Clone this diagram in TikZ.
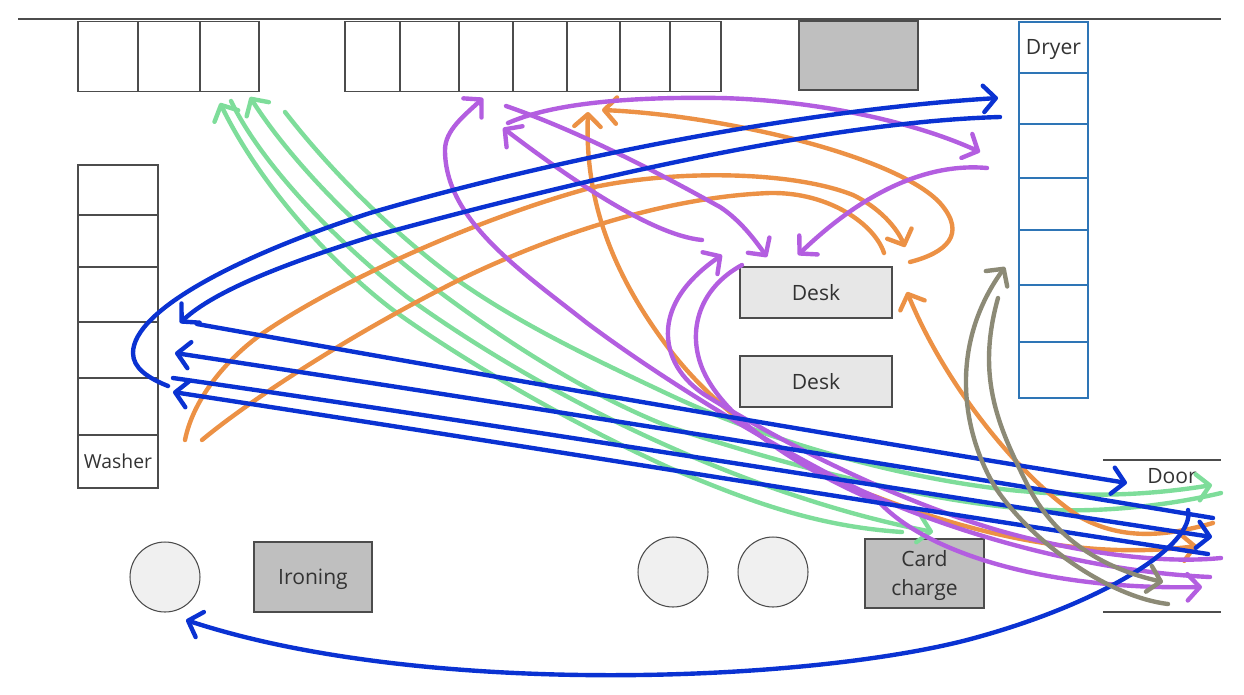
\documentclass[tikz,border=0pt]{standalone}
\usepackage{fontspec}
\setmainfont{Open Sans}
\usetikzlibrary{arrows.meta}
\definecolor{penblue}{HTML}{0A32D2}
\definecolor{pengreen}{HTML}{7EDD9A}
\definecolor{penorange}{HTML}{EC9145}
\definecolor{penpurple}{HTML}{B35EE0}
\definecolor{pengray}{HTML}{8C8A76}
\definecolor{boxgray}{HTML}{BFBFBF}
\definecolor{deskgray}{HTML}{E7E7E7}
\definecolor{dryline}{HTML}{2E75B6}
\begin{document}
\begin{tikzpicture}[
    x=0.02cm, y=-0.02cm,
    cell/.style={rectangle, draw=black!70, line width=0.6pt, inner sep=0pt, outer sep=0pt},
    drycell/.style={cell, draw=dryline},
    darkbox/.style={cell, fill=boxgray, align=center, font=\fontsize{12}{16}\selectfont, text=black!80, text depth=0.6pt},
    deskbox/.style={cell, fill=deskgray, font=\fontsize{12}{15}\selectfont, text=black!80},
    machine/.style={circle, draw=black!70, fill=black!6, line width=0.6pt, inner sep=0pt, outer sep=0pt, minimum size=1.4cm},
    wall/.style={draw=black!70, line width=0.7pt},
    pen/.style={line width=2.5pt, line cap=round, line join=round},
    tip/.style={pen, -{Straight Barb[length=7pt, width=15pt, line cap=round, line join=round]}},
    tiptwo/.style={pen, {Straight Barb[length=7pt, width=15pt, line cap=round, line join=round]}-{Straight Barb[length=7pt, width=15pt, line cap=round, line join=round]}}
]
\useasboundingbox (0,0) rectangle (1244,694);

% Top wall and door
\coordinate (wallL) at (18,19);
\coordinate (wallR) at (1221,19);
\coordinate (doorTL) at (1103,460);
\coordinate (doorTR) at (1221,460);
\coordinate (doorBL) at (1103,612);
\coordinate (doorBR) at (1221,612);
\draw[wall] (wallL) -- (wallR);
\draw[wall] (doorTL) -- (doorTR);
\draw[wall] (doorBL) -- (doorBR);
\node[font=\fontsize{12}{15}\selectfont, text=black!80] (door) at (1172,476) {Door};

% Upper rows of cells
\foreach \xa/\xb/\n in {78/138/1, 138/200/2, 200/259/3}
    \node[cell, minimum width={(\xb-\xa)*0.02cm}, minimum height=1.4cm] (rowa\n) at ({(\xa+\xb)/2},56.5) {};
\foreach \xa/\xb/\n in {345/400/1, 400/459/2, 459/513/3, 513/567/4, 567/620/5, 620/670/6, 670/721/7}
    \node[cell, minimum width={(\xb-\xa)*0.02cm}, minimum height=1.4cm] (rowb\n) at ({(\xa+\xb)/2},56.5) {};
\node[darkbox, minimum width=2.38cm, minimum height=1.38cm] (graybox) at (858.5,55.5) {};

% Washers
\foreach \ya/\yb/\n in {165/215/1, 215/267/2, 267/322/3, 322/378/4, 378/435/5}
    \node[cell, minimum width=1.6cm, minimum height={(\yb-\ya)*0.02cm}] (washer\n) at (118,{(\ya+\yb)/2}) {};
\node[cell, minimum width=1.6cm, minimum height=1.06cm, font=\fontsize{11}{14}\selectfont, text=black!80] (washer) at (118,461.5) {Washer};

% Dryers
\node[drycell, minimum width=1.38cm, minimum height=1.02cm, font=\fontsize{12}{15}\selectfont, text=black!80, text depth=0.6pt] (dryer) at (1053.5,47.5) {Dryer};
\foreach \ya/\yb/\n in {73/124/1, 124/178/2, 178/230/3, 230/285/4, 285/342/5, 342/398/6}
    \node[drycell, minimum width=1.38cm, minimum height={(\yb-\ya)*0.02cm}] (dryer\n) at (1053.5,{(\ya+\yb)/2}) {};

% Desks, ironing, card charge
\node[deskbox, minimum width=3.04cm, minimum height=1.02cm] (deska) at (816,292.5) {Desk};
\node[deskbox, minimum width=3.04cm, minimum height=1.02cm] (deskb) at (816,381.5) {Desk};
\node[darkbox, minimum width=2.36cm, minimum height=1.4cm] (ironing) at (313,577) {Ironing};
\node[darkbox, minimum width=2.38cm, minimum height=1.38cm] (card) at (924.5,573.5) {Card\\charge};
\node[machine] (circa) at (165,577) {};
\node[machine] (circb) at (673,572) {};
\node[machine] (circc) at (773,572) {};

% Green strokes
\coordinate (ga) at (902,532);
\coordinate (gb) at (220,103);
\coordinate (gc) at (231,101);
\coordinate (gd) at (933,532);
\coordinate (ge) at (1221,493);
\coordinate (gf) at (250,97);
\coordinate (gg) at (285,112);
\coordinate (gh) at (1212,485);
\draw[tip, pengreen] (ga) .. controls (810,526) and (740,497) .. (670,468) .. controls (560,418) and (455,355) .. (393,310) .. controls (330,262) and (260,185) .. (gb);
\draw[tip, pengreen] (gc) .. controls (262,165) and (335,240) .. (407,297) .. controls (480,350) and (575,405) .. (670,447) .. controls (760,487) and (850,516) .. (gd);
\draw[tip, pengreen] (ge) .. controls (1170,505) and (1110,512) .. (1050,510) .. controls (950,507) and (800,470) .. (670,427) .. controls (580,392) and (490,330) .. (433,287) .. controls (360,232) and (290,160) .. (gf);
\draw[tip, pengreen] (gg) .. controls (330,170) and (390,230) .. (453,277) .. controls (520,325) and (600,362) .. (670,395) .. controls (770,442) and (900,478) .. (1010,490) .. controls (1090,498) and (1150,495) .. (gh);

% Orange strokes
\coordinate (oa) at (185,440);
\coordinate (ob) at (905,247);
\coordinate (oc) at (202,440);
\coordinate (od) at (884,253);
\coordinate (oe) at (910,262);
\coordinate (of) at (602,110);
\coordinate (og) at (588,112);
\coordinate (oh) at (1197,546);
\coordinate (oi) at (1213,523);
\coordinate (oj) at (907,292);
\draw[tip, penorange] (oa) .. controls (193,400) and (225,360) .. (263,333) .. controls (340,280) and (480,218) .. (590,188) .. controls (670,170) and (790,170) .. (853,195) .. controls (880,208) and (897,228) .. (ob);
\draw[pen, penorange] (oc) .. controls (250,400) and (350,335) .. (453,283) .. controls (540,240) and (660,197) .. (770,193) .. controls (830,192) and (875,225) .. (od);
\draw[tip, penorange] (oe) .. controls (945,253) and (968,235) .. (940,203) .. controls (895,155) and (720,115) .. (of);
\draw[tiptwo, penorange] (og) .. controls (585,190) and (605,265) .. (670,350) .. controls (720,415) and (800,470) .. (877,497) .. controls (950,525) and (1070,562) .. (oh);
\draw[tip, penorange] (oi) .. controls (1170,535) and (1125,542) .. (1080,517) .. controls (1020,478) and (945,385) .. (oj);

% Purple strokes
\coordinate (pa) at (1210,577);
\coordinate (pb) at (483,98);
\coordinate (pc) at (1221,558);
\coordinate (pd) at (722,255);
\coordinate (pe) at (742,265);
\coordinate (pf) at (1202,587);
\coordinate (pg) at (702,240);
\coordinate (ph) at (503,128);
\coordinate (pi) at (506,106);
\coordinate (pj) at (767,257);
\coordinate (pk) at (508,123);
\coordinate (pl) at (980,152);
\coordinate (pm) at (987,168);
\coordinate (pn) at (798,255);
\draw[tip, penpurple] (pa) .. controls (1100,572) and (970,540) .. (860,490) .. controls (780,450) and (670,385) .. (587,323) .. controls (520,270) and (445,220) .. (445,150) .. controls (445,130) and (465,115) .. (pb);
\draw[tip, penpurple] (pc) .. controls (1150,565) and (1060,548) .. (997,530) .. controls (880,495) and (770,435) .. (705,395) .. controls (675,375) and (667,350) .. (668,330) .. controls (670,295) and (700,270) .. (pd);
\draw[tip, penpurple] (pe) .. controls (705,285) and (690,320) .. (698,355) .. controls (710,410) and (790,465) .. (880,503) .. controls (930,555) and (1050,590) .. (pf);
\draw[tip, penpurple] (pg) .. controls (650,235) and (565,175) .. (ph);
\draw[tip, penpurple] (pi) .. controls (590,135) and (680,185) .. (720,207) .. controls (740,220) and (755,240) .. (pj);
\draw[tip, penpurple] (pk) .. controls (560,100) and (650,97) .. (720,98) .. controls (810,100) and (910,120) .. (pl);
\draw[tip, penpurple] (pm) .. controls (920,162) and (855,200) .. (pn);

% Blue strokes
\coordinate (ba) at (168,386);
\coordinate (bb) at (998,98);
\coordinate (bc) at (1000,117);
\coordinate (bd) at (180,323);
\coordinate (be) at (197,324);
\coordinate (bf) at (1127,483);
\coordinate (bg) at (1213,518);
\coordinate (bh) at (175,353);
\coordinate (bi) at (173,378);
\coordinate (bj) at (1212,537);
\coordinate (bk) at (1208,554);
\coordinate (bl) at (173,392);
\coordinate (bm) at (1188,510);
\coordinate (bn) at (186,620);
\draw[tip, penblue] (ba) .. controls (148,378) and (133,368) .. (133,353) .. controls (133,310) and (240,255) .. (370,213) .. controls (550,160) and (800,110) .. (bb);
\draw[tip, penblue] (bc) .. controls (820,122) and (560,185) .. (370,237) .. controls (290,262) and (215,290) .. (bd);
\draw[tip, penblue] (be) .. controls (500,378) and (800,430) .. (bf);
\draw[tip, penblue] (bg) .. controls (900,466) and (500,402) .. (bh);
\draw[tip, penblue] (bi) .. controls (500,425) and (900,490) .. (bj);
\draw[tip, penblue] (bk) .. controls (900,507) and (500,442) .. (bl);
\draw[tip, penblue] (bm) .. controls (1196,545) and (1100,605) .. (967,640) .. controls (800,683) and (420,697) .. (bn);

% Gray strokes
\coordinate (ca) at (1168,604);
\coordinate (cb) at (1005,267);
\coordinate (cc) at (998,298);
\coordinate (cd) at (1163,582);
\draw[tip, pengray] (ca) .. controls (1110,597) and (1035,545) .. (997,490) .. controls (965,440) and (945,350) .. (cb);
\draw[tip, pengray] (cc) .. controls (975,380) and (1000,430) .. (1030,490) .. controls (1060,545) and (1110,570) .. (cd);

\end{tikzpicture}
\end{document}
